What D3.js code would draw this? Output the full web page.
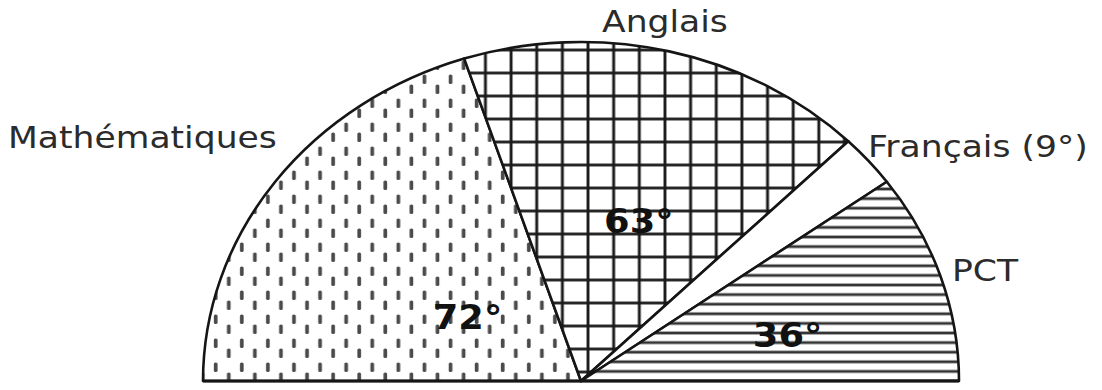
<!DOCTYPE html>
<html>
<head>
<meta charset="utf-8">
<script src="https://cdn.jsdelivr.net/npm/d3@7"></script>
<style>
  html, body { margin: 0; padding: 0; background: #fff; }
  svg { display: block; }
  .name { font-family: "DejaVu Sans", Verdana, sans-serif; font-size: 31px; fill: #2b2b2b; }
  .value { font-family: "DejaVu Sans", Verdana, sans-serif; font-size: 33px; font-weight: bold; fill: #111; }
</style>
</head>
<body>
<div id="chart"></div>
<script>
// data (angles in degrees, half pie = 180)
const subjects = ['Mathématiques', 'Anglais', 'Français', 'PCT'];
const degrees = [72, 63, 9, 36];
const nameLabels = ['Mathématiques', 'Anglais', 'Français (9°)', 'PCT'];
const valueLabels = ['72°', '63°', '', '36°'];
const fills = ['url(#dashes)', 'url(#grid)', '#fff', 'url(#hlines)'];

// layout
const width = 1102, height = 390;
const cx = 581, cy = 381;
const ry = 339, rx = 378;
const sx = rx / ry; // the half pie is stretched horizontally
// where the outer names sit (left x, baseline) and the value labels (angle, radius)
const namePos = [[8, 148], [602, 32], [868, 157], [952, 281]];
const valuePos = [[-58, 120], [18, 168], null, [76, 191]];

let svg = d3.select('#chart').append('svg')
    .attr('width', width)
    .attr('height', height);

svg.append('rect')
    .attr('width', width)
    .attr('height', height)
    .attr('fill', '#fff');

let defs = svg.append('defs');

// vertical dashes, staggered
let pDash = defs.append('pattern')
    .attr('id', 'dashes')
    .attr('patternUnits', 'userSpaceOnUse')
    .attr('x', -5.85).attr('y', 4)
    .attr('width', 23.4).attr('height', 24);
pDash.append('rect')
    .attr('x', 4.2).attr('y', 1.5).attr('width', 3.3).attr('height', 9.5).attr('rx', 1.5)
    .attr('fill', '#4a4a4a');
pDash.append('rect')
    .attr('x', 15.9).attr('y', 11.5).attr('width', 3.3).attr('height', 9.5).attr('rx', 1.5)
    .attr('fill', '#4a4a4a');

// square grid
let pGrid = defs.append('pattern')
    .attr('id', 'grid')
    .attr('patternUnits', 'userSpaceOnUse')
    .attr('x', -5.2).attr('y', 2.5)
    .attr('width', 23).attr('height', 23);
pGrid.append('rect').attr('width', 23).attr('height', 23).attr('fill', '#fff');
pGrid.append('line')
    .attr('x1', 11.5).attr('x2', 11.5).attr('y1', 0).attr('y2', 23)
    .attr('stroke', '#1a1a1a').attr('stroke-width', 2.6);
pGrid.append('line')
    .attr('y1', 11.5).attr('y2', 11.5).attr('x1', 0).attr('x2', 23)
    .attr('stroke', '#1a1a1a').attr('stroke-width', 2.8);

// horizontal lines
let pLines = defs.append('pattern')
    .attr('id', 'hlines')
    .attr('patternUnits', 'userSpaceOnUse')
    .attr('x', 0).attr('y', -4.8)
    .attr('width', 20).attr('height', 9.6);
pLines.append('rect').attr('width', 20).attr('height', 9.6).attr('fill', '#fff');
pLines.append('line')
    .attr('x1', 0).attr('x2', 20).attr('y1', 4.8).attr('y2', 4.8)
    .attr('stroke', '#333').attr('stroke-width', 2.8);

let pie = d3.pie()
    .sort(null)
    .startAngle(-Math.PI / 2)
    .endAngle(Math.PI / 2);

let arc = d3.arc()
    .innerRadius(0)
    .outerRadius(ry);

let slicesData = pie(degrees);

let g = svg.append('g')
    .attr('transform', `translate(${cx},${cy}) scale(${sx},1)`);

g.selectAll('path.slice')
    .data(slicesData)
    .enter()
    .append('path')
    .attr('class', 'slice')
    .attr('d', arc)
    .attr('fill', (d, i) => fills[i])
    .attr('stroke', '#151515')
    .attr('stroke-width', 2.6)
    .attr('stroke-linejoin', 'round')
    .attr('vector-effect', 'non-scaling-stroke');

// baseline of the half pie
g.append('line')
    .attr('x1', -ry).attr('x2', ry)
    .attr('y1', 0).attr('y2', 0)
    .attr('stroke', '#151515')
    .attr('stroke-width', 3.2)
    .attr('vector-effect', 'non-scaling-stroke');

// texts are stretched like the drawing
let tg = svg.append('g')
    .attr('transform', `scale(${sx},1)`);

tg.selectAll('text.name')
    .data(nameLabels)
    .enter()
    .append('text')
    .attr('class', 'name')
    .attr('x', (d, i) => namePos[i][0] / sx)
    .attr('y', (d, i) => namePos[i][1])
    .text(d => d);

tg.selectAll('text.value')
    .data(slicesData.filter((d, i) => valueLabels[i] !== ''))
    .enter()
    .append('text')
    .attr('class', 'value')
    .attr('text-anchor', 'middle')
    .attr('dy', '0.36em')
    .attr('x', d => {
        let p = valuePos[d.index];
        return (cx + sx * p[1] * Math.sin(p[0] * Math.PI / 180)) / sx;
    })
    .attr('y', d => {
        let p = valuePos[d.index];
        return cy - p[1] * Math.cos(p[0] * Math.PI / 180);
    })
    .text(d => valueLabels[d.index]);
</script>
</body>
</html>
